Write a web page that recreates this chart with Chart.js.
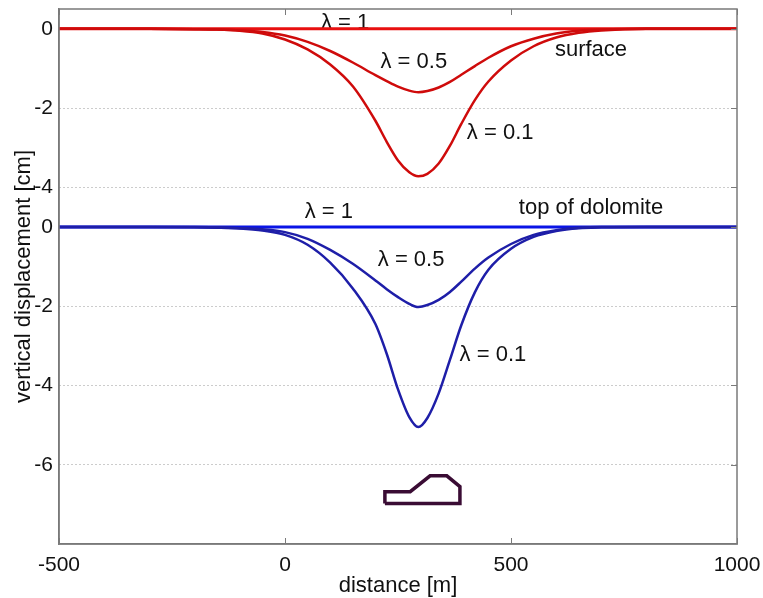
<!DOCTYPE html>
<html>
<head>
<meta charset="utf-8">
<script src="https://cdn.jsdelivr.net/npm/chart.js@4/dist/chart.umd.min.js"></script>
<style>
html,body{margin:0;padding:0;background:#fff;}
#wrap{width:763px;height:598px;}
</style>
</head>
<body>
<div id="wrap"><canvas id="c" width="763" height="598"></canvas></div>
<script>
// ---- data ----
const distance = [-500,-300,-200,-150,-100,-50,0,50,100,150,200,225,250,275,295,315,340,365,390,420,450,500,550,600,650,700,800,1000];
const surfaceL1  = [0,0,0,0,0,0,0,0,0,0,0,0,0,0,0,0,0,0,0,0,0,0,0,0,0,0,0,0];
const surfaceL05 = [0,0,-0.01,-0.02,-0.04,-0.08,-0.17,-0.33,-0.56,-0.85,-1.17,-1.32,-1.46,-1.56,-1.6,-1.57,-1.48,-1.34,-1.16,-0.94,-0.73,-0.44,-0.25,-0.12,-0.05,-0.02,0,0];
const surfaceL01 = [0,0,-0.01,-0.02,-0.05,-0.12,-0.27,-0.52,-0.9,-1.45,-2.32,-2.85,-3.32,-3.62,-3.72,-3.66,-3.4,-2.95,-2.4,-1.8,-1.33,-0.8,-0.44,-0.22,-0.1,-0.04,0,0];
const dolomiteL1  = [0,0,0,0,0,0,0,0,0,0,0,0,0,0,0,0,0,0,0,0,0,0,0,0,0,0,0,0];
const dolomiteL05 = [0,0,0,-0.01,-0.03,-0.06,-0.13,-0.3,-0.58,-0.93,-1.35,-1.57,-1.77,-1.94,-2.02,-1.97,-1.84,-1.64,-1.38,-1.05,-0.77,-0.43,-0.2,-0.08,-0.02,0,0,0];
const dolomiteL01 = [0,0,-0.01,-0.02,-0.04,-0.09,-0.2,-0.45,-0.9,-1.55,-2.45,-3.2,-4.1,-4.8,-5.05,-4.82,-4.2,-3.35,-2.48,-1.65,-1.08,-0.55,-0.25,-0.1,-0.03,-0.01,0,0];
const cavityX = [221,221,277,321,358,387,387,221];
const cavityY = [-6.98,-6.68,-6.68,-6.28,-6.28,-6.55,-6.98,-6.98];
const xTicks = [-500,0,500,1000];
const yTickValues = [5,3,1,0,-2,-4,-6];
const yTickLabels = ['0','-2','-4','0','-2','-4','-6'];
const labelTexts = ['λ = 1','surface','λ = 0.5','λ = 0.1','λ = 1','top of dolomite','λ = 0.5','λ = 0.1'];
const labelX = [133,677,285,476,97,677,279,460];
const labelY = [5.14,4.46,4.16,2.37,0.38,0.48,-0.83,-3.23];

// surface profile is plotted shifted up by this many units
const SURFACE_OFFSET = 5;

const pts = (xa, ya, off) => xa.map((x,i)=>({x:x, y:ya[i] + (off||0)}));

const FONT = 'Liberation Sans, Arial, sans-serif';

const framePlugin = {
  id:'frame',
  beforeDatasetsDraw(chart){
    const ctx = chart.ctx, xs = chart.scales.x, ys = chart.scales.y;
    ctx.save();
    ctx.font = '22px ' + FONT;
    ctx.fillStyle = '#111';
    ctx.textAlign = 'center';
    ctx.textBaseline = 'middle';
    labelTexts.forEach((t,i)=>{
      ctx.fillText(t, xs.getPixelForValue(labelX[i]), ys.getPixelForValue(labelY[i]));
    });
    ctx.restore();
  },
  afterDraw(chart){
    const ctx = chart.ctx, a = chart.chartArea, xs = chart.scales.x, ys = chart.scales.y;
    ctx.save();
    ctx.strokeStyle = '#7a7a7a';
    ctx.lineWidth = 1.5;
    ctx.strokeRect(a.left, a.top, a.right - a.left, a.bottom - a.top);
    ctx.lineWidth = 1;
    ctx.beginPath();
    xTicks.forEach(v=>{
      const p = Math.round(xs.getPixelForValue(v)) + 0.5;
      ctx.moveTo(p, a.bottom); ctx.lineTo(p, a.bottom - 6);
      ctx.moveTo(p, a.top); ctx.lineTo(p, a.top + 6);
    });
    yTickValues.forEach(v=>{
      const p = Math.round(ys.getPixelForValue(v)) + 0.5;
      ctx.moveTo(a.right, p); ctx.lineTo(a.right - 6, p);
    });
    ctx.stroke();
    ctx.restore();
  }
};

const noPad = s => { s.paddingTop = 0; s.paddingBottom = 0; s.paddingLeft = 0; s.paddingRight = 0; };

const RED = '#e81010', RED_D = '#cf0b0b', BLUE = '#0a14e6', BLUE_D = '#1e1ea8';
const line = (data, color, w) => ({data, borderColor:color, borderWidth:w, pointRadius:0, fill:false, cubicInterpolationMode:'monotone', showLine:true});

new Chart(document.getElementById('c'), {
  type:'scatter',
  data:{
    datasets:[
      line(pts(distance, surfaceL05, SURFACE_OFFSET), RED_D, 2.5),
      line(pts(distance, surfaceL01, SURFACE_OFFSET), RED_D, 2.5),
      line(pts(distance, surfaceL1, SURFACE_OFFSET), RED, 3),
      line(pts(distance, dolomiteL05), BLUE_D, 2.5),
      line(pts(distance, dolomiteL01), BLUE_D, 2.5),
      line(pts(distance, dolomiteL1), BLUE, 3),
      Object.assign(line(pts(cavityX, cavityY), '#3a0c34', 3.5), {cubicInterpolationMode:'default', tension:0})
    ]
  },
  options:{
    responsive:false,
    animation:false,
    layout:{padding:{left:0,right:26,top:9,bottom:0}},
    plugins:{legend:{display:false}, tooltip:{enabled:false}},
    scales:{
      x:{
        type:'linear', min:-500, max:1000,
        afterBuildTicks(s){ s.ticks = xTicks.map(v=>({value:v})); },
        afterFit(s){ s.height = 54; noPad(s); },
        grid:{display:false, drawTicks:false},
        border:{display:true, color:'#7a7a7a', width:1.5},
        ticks:{padding:9, color:'#111', font:{family:FONT, size:21}, maxRotation:0, callback(v){ return String(v); }},
        title:{display:true, text:'distance [m]', color:'#111', font:{family:FONT, size:22, lineHeight:1}, padding:{top:0,bottom:1}}
      },
      y:{
        type:'linear', min:-8, max:5.5,
        afterBuildTicks(s){ s.ticks = yTickValues.map(v=>({value:v})); },
        afterFit(s){ s.width = 59; noPad(s); },
        grid:{color:'#999', lineWidth:1, drawTicks:false},
        border:{display:true, color:'#7a7a7a', width:1.5, dash:[1,3]},
        ticks:{padding:6, color:'#111', font:{family:FONT, size:21},
          callback(v){ const i = yTickValues.indexOf(v); return i>=0 ? yTickLabels[i] : ''; }},
        title:{display:true, text:'vertical displacement [cm]', color:'#111', font:{family:FONT, size:22, lineHeight:1}, padding:{top:13,bottom:0}}
      }
    }
  },
  plugins:[framePlugin]
});
</script>
</body>
</html>
